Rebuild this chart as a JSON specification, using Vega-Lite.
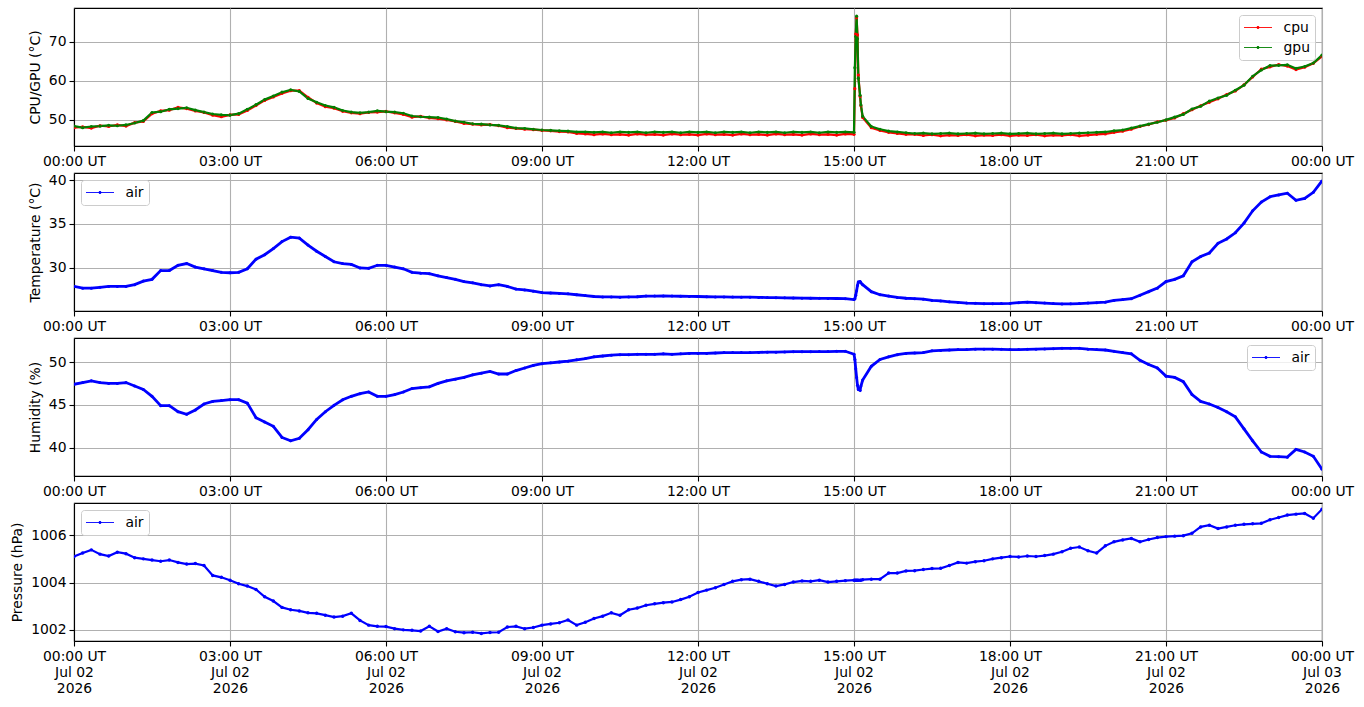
{
  "$schema": "https://vega.github.io/schema/vega-lite/v6.json",
  "background": "#ffffff",
  "padding": {"top": 7, "left": 10, "right": 5, "bottom": 5},
  "spacing": 3,
  "datasets": {
    "sensors": [
      {"t": "2026-07-02T00:00:00Z", "cpu": 48.0, "gpu": 48.4, "air": 27.9, "hum": 47.4, "pres": 1005.1},
      {"t": "2026-07-02T00:10:00Z", "cpu": 48.2, "gpu": 48.0, "air": 27.7, "hum": 47.6, "pres": 1005.25},
      {"t": "2026-07-02T00:20:00Z", "cpu": 47.9, "gpu": 48.3, "air": 27.7, "hum": 47.8, "pres": 1005.38},
      {"t": "2026-07-02T00:30:00Z", "cpu": 48.5, "gpu": 48.4, "air": 27.8, "hum": 47.6, "pres": 1005.2},
      {"t": "2026-07-02T00:40:00Z", "cpu": 48.3, "gpu": 48.6, "air": 27.9, "hum": 47.5, "pres": 1005.12},
      {"t": "2026-07-02T00:50:00Z", "cpu": 48.7, "gpu": 48.5, "air": 27.9, "hum": 47.5, "pres": 1005.28},
      {"t": "2026-07-02T01:00:00Z", "cpu": 48.4, "gpu": 48.7, "air": 27.9, "hum": 47.6, "pres": 1005.22},
      {"t": "2026-07-02T01:10:00Z", "cpu": 49.3, "gpu": 49.2, "air": 28.1, "hum": 47.2, "pres": 1005.05},
      {"t": "2026-07-02T01:20:00Z", "cpu": 49.6, "gpu": 49.8, "air": 28.5, "hum": 46.8, "pres": 1005.0},
      {"t": "2026-07-02T01:30:00Z", "cpu": 51.6, "gpu": 51.9, "air": 28.7, "hum": 46.0, "pres": 1004.95},
      {"t": "2026-07-02T01:40:00Z", "cpu": 52.3, "gpu": 52.1, "air": 29.7, "hum": 44.9, "pres": 1004.9},
      {"t": "2026-07-02T01:50:00Z", "cpu": 52.5, "gpu": 52.7, "air": 29.7, "hum": 44.9, "pres": 1004.95},
      {"t": "2026-07-02T02:00:00Z", "cpu": 53.2, "gpu": 52.9, "air": 30.3, "hum": 44.2, "pres": 1004.85},
      {"t": "2026-07-02T02:10:00Z", "cpu": 52.9, "gpu": 53.1, "air": 30.5, "hum": 43.9, "pres": 1004.78},
      {"t": "2026-07-02T02:20:00Z", "cpu": 52.3, "gpu": 52.5, "air": 30.1, "hum": 44.4, "pres": 1004.8},
      {"t": "2026-07-02T02:30:00Z", "cpu": 51.9, "gpu": 52.0, "air": 29.9, "hum": 45.1, "pres": 1004.72},
      {"t": "2026-07-02T02:40:00Z", "cpu": 51.2, "gpu": 51.5, "air": 29.7, "hum": 45.4, "pres": 1004.3},
      {"t": "2026-07-02T02:50:00Z", "cpu": 50.8, "gpu": 51.3, "air": 29.5, "hum": 45.5, "pres": 1004.22},
      {"t": "2026-07-02T03:00:00Z", "cpu": 51.3, "gpu": 51.2, "air": 29.45, "hum": 45.6, "pres": 1004.1},
      {"t": "2026-07-02T03:10:00Z", "cpu": 51.4, "gpu": 51.6, "air": 29.5, "hum": 45.6, "pres": 1003.95},
      {"t": "2026-07-02T03:20:00Z", "cpu": 52.4, "gpu": 52.7, "air": 29.9, "hum": 45.2, "pres": 1003.85},
      {"t": "2026-07-02T03:30:00Z", "cpu": 53.7, "gpu": 53.9, "air": 31.0, "hum": 43.5, "pres": 1003.71},
      {"t": "2026-07-02T03:40:00Z", "cpu": 55.0, "gpu": 55.2, "air": 31.5, "hum": 43.0, "pres": 1003.4},
      {"t": "2026-07-02T03:50:00Z", "cpu": 55.9, "gpu": 56.1, "air": 32.2, "hum": 42.5, "pres": 1003.22},
      {"t": "2026-07-02T04:00:00Z", "cpu": 56.8, "gpu": 57.1, "air": 33.0, "hum": 41.2, "pres": 1002.95},
      {"t": "2026-07-02T04:10:00Z", "cpu": 57.5, "gpu": 57.7, "air": 33.5, "hum": 40.8, "pres": 1002.85},
      {"t": "2026-07-02T04:20:00Z", "cpu": 57.5, "gpu": 57.3, "air": 33.4, "hum": 41.1, "pres": 1002.8},
      {"t": "2026-07-02T04:30:00Z", "cpu": 55.8, "gpu": 55.5, "air": 32.6, "hum": 42.1, "pres": 1002.72},
      {"t": "2026-07-02T04:40:00Z", "cpu": 54.3, "gpu": 54.5, "air": 31.9, "hum": 43.3, "pres": 1002.7},
      {"t": "2026-07-02T04:50:00Z", "cpu": 53.4, "gpu": 53.7, "air": 31.3, "hum": 44.2, "pres": 1002.62},
      {"t": "2026-07-02T05:00:00Z", "cpu": 53.0, "gpu": 53.2, "air": 30.7, "hum": 44.95, "pres": 1002.54},
      {"t": "2026-07-02T05:10:00Z", "cpu": 52.2, "gpu": 52.4, "air": 30.5, "hum": 45.6, "pres": 1002.58},
      {"t": "2026-07-02T05:20:00Z", "cpu": 51.8, "gpu": 52.0, "air": 30.4, "hum": 46.0, "pres": 1002.7},
      {"t": "2026-07-02T05:30:00Z", "cpu": 51.6, "gpu": 51.8, "air": 30.0, "hum": 46.3, "pres": 1002.4},
      {"t": "2026-07-02T05:40:00Z", "cpu": 51.9, "gpu": 52.0, "air": 29.95, "hum": 46.5, "pres": 1002.2},
      {"t": "2026-07-02T05:50:00Z", "cpu": 52.0, "gpu": 52.3, "air": 30.3, "hum": 46.0, "pres": 1002.15},
      {"t": "2026-07-02T06:00:00Z", "cpu": 52.2, "gpu": 52.1, "air": 30.3, "hum": 46.0, "pres": 1002.14},
      {"t": "2026-07-02T06:10:00Z", "cpu": 51.8, "gpu": 52.0, "air": 30.1, "hum": 46.2, "pres": 1002.05},
      {"t": "2026-07-02T06:20:00Z", "cpu": 51.4, "gpu": 51.7, "air": 29.9, "hum": 46.5, "pres": 1002.0},
      {"t": "2026-07-02T06:30:00Z", "cpu": 50.7, "gpu": 51.0, "air": 29.5, "hum": 46.9, "pres": 1001.98},
      {"t": "2026-07-02T06:40:00Z", "cpu": 50.9, "gpu": 50.8, "air": 29.4, "hum": 47.0, "pres": 1001.95},
      {"t": "2026-07-02T06:50:00Z", "cpu": 50.5, "gpu": 50.7, "air": 29.35, "hum": 47.1, "pres": 1002.15},
      {"t": "2026-07-02T07:00:00Z", "cpu": 50.3, "gpu": 50.6, "air": 29.1, "hum": 47.5, "pres": 1001.93},
      {"t": "2026-07-02T07:10:00Z", "cpu": 50.0, "gpu": 50.2, "air": 28.9, "hum": 47.8, "pres": 1002.05},
      {"t": "2026-07-02T07:20:00Z", "cpu": 49.6, "gpu": 49.7, "air": 28.7, "hum": 48.0, "pres": 1001.92},
      {"t": "2026-07-02T07:30:00Z", "cpu": 49.1, "gpu": 49.4, "air": 28.45, "hum": 48.2, "pres": 1001.88},
      {"t": "2026-07-02T07:40:00Z", "cpu": 48.9, "gpu": 49.0, "air": 28.3, "hum": 48.5, "pres": 1001.9},
      {"t": "2026-07-02T07:50:00Z", "cpu": 48.7, "gpu": 48.9, "air": 28.1, "hum": 48.7, "pres": 1001.85},
      {"t": "2026-07-02T08:00:00Z", "cpu": 48.8, "gpu": 48.7, "air": 27.95, "hum": 48.9, "pres": 1001.89},
      {"t": "2026-07-02T08:10:00Z", "cpu": 48.5, "gpu": 48.6, "air": 28.1, "hum": 48.6, "pres": 1001.9},
      {"t": "2026-07-02T08:20:00Z", "cpu": 48.0, "gpu": 48.3, "air": 27.9, "hum": 48.6, "pres": 1002.12},
      {"t": "2026-07-02T08:30:00Z", "cpu": 47.8, "gpu": 47.9, "air": 27.6, "hum": 49.0, "pres": 1002.15},
      {"t": "2026-07-02T08:40:00Z", "cpu": 47.6, "gpu": 47.8, "air": 27.5, "hum": 49.3, "pres": 1002.05},
      {"t": "2026-07-02T08:50:00Z", "cpu": 47.5, "gpu": 47.6, "air": 27.35, "hum": 49.6, "pres": 1002.1},
      {"t": "2026-07-02T09:00:00Z", "cpu": 47.3, "gpu": 47.4, "air": 27.2, "hum": 49.8, "pres": 1002.2},
      {"t": "2026-07-02T09:10:00Z", "cpu": 47.2, "gpu": 47.3, "air": 27.15, "hum": 49.9, "pres": 1002.25},
      {"t": "2026-07-02T09:20:00Z", "cpu": 47.0, "gpu": 47.2, "air": 27.1, "hum": 50.0, "pres": 1002.3},
      {"t": "2026-07-02T09:30:00Z", "cpu": 46.9, "gpu": 47.1, "air": 27.05, "hum": 50.1, "pres": 1002.42},
      {"t": "2026-07-02T09:40:00Z", "cpu": 46.5, "gpu": 46.9, "air": 26.95, "hum": 50.25, "pres": 1002.2},
      {"t": "2026-07-02T09:50:00Z", "cpu": 46.4, "gpu": 46.9, "air": 26.85, "hum": 50.4, "pres": 1002.32},
      {"t": "2026-07-02T10:00:00Z", "cpu": 46.2, "gpu": 46.8, "air": 26.75, "hum": 50.6, "pres": 1002.48},
      {"t": "2026-07-02T10:10:00Z", "cpu": 46.4, "gpu": 46.9, "air": 26.7, "hum": 50.7, "pres": 1002.58},
      {"t": "2026-07-02T10:20:00Z", "cpu": 46.2, "gpu": 46.7, "air": 26.7, "hum": 50.8, "pres": 1002.72},
      {"t": "2026-07-02T10:30:00Z", "cpu": 46.3, "gpu": 46.9, "air": 26.67, "hum": 50.85, "pres": 1002.62},
      {"t": "2026-07-02T10:40:00Z", "cpu": 46.1, "gpu": 46.8, "air": 26.7, "hum": 50.85, "pres": 1002.85},
      {"t": "2026-07-02T10:50:00Z", "cpu": 46.4, "gpu": 46.9, "air": 26.72, "hum": 50.9, "pres": 1002.92},
      {"t": "2026-07-02T11:00:00Z", "cpu": 46.2, "gpu": 46.7, "air": 26.8, "hum": 50.9, "pres": 1003.04},
      {"t": "2026-07-02T11:10:00Z", "cpu": 46.3, "gpu": 46.9, "air": 26.8, "hum": 50.9, "pres": 1003.1},
      {"t": "2026-07-02T11:20:00Z", "cpu": 46.1, "gpu": 46.8, "air": 26.82, "hum": 50.95, "pres": 1003.15},
      {"t": "2026-07-02T11:30:00Z", "cpu": 46.4, "gpu": 46.9, "air": 26.8, "hum": 50.9, "pres": 1003.18},
      {"t": "2026-07-02T11:40:00Z", "cpu": 46.2, "gpu": 46.7, "air": 26.78, "hum": 50.95, "pres": 1003.28},
      {"t": "2026-07-02T11:50:00Z", "cpu": 46.3, "gpu": 46.9, "air": 26.76, "hum": 51.0, "pres": 1003.4},
      {"t": "2026-07-02T12:00:00Z", "cpu": 46.1, "gpu": 46.8, "air": 26.75, "hum": 51.0, "pres": 1003.58},
      {"t": "2026-07-02T12:10:00Z", "cpu": 46.4, "gpu": 46.9, "air": 26.72, "hum": 51.0, "pres": 1003.68},
      {"t": "2026-07-02T12:20:00Z", "cpu": 46.2, "gpu": 46.7, "air": 26.7, "hum": 51.05, "pres": 1003.78},
      {"t": "2026-07-02T12:30:00Z", "cpu": 46.3, "gpu": 46.9, "air": 26.7, "hum": 51.1, "pres": 1003.92},
      {"t": "2026-07-02T12:40:00Z", "cpu": 46.1, "gpu": 46.8, "air": 26.68, "hum": 51.1, "pres": 1004.05},
      {"t": "2026-07-02T12:50:00Z", "cpu": 46.4, "gpu": 46.9, "air": 26.67, "hum": 51.1, "pres": 1004.12},
      {"t": "2026-07-02T13:00:00Z", "cpu": 46.2, "gpu": 46.7, "air": 26.67, "hum": 51.1, "pres": 1004.14},
      {"t": "2026-07-02T13:10:00Z", "cpu": 46.3, "gpu": 46.9, "air": 26.65, "hum": 51.12, "pres": 1004.05},
      {"t": "2026-07-02T13:20:00Z", "cpu": 46.1, "gpu": 46.8, "air": 26.63, "hum": 51.15, "pres": 1003.95},
      {"t": "2026-07-02T13:30:00Z", "cpu": 46.4, "gpu": 46.9, "air": 26.62, "hum": 51.15, "pres": 1003.85},
      {"t": "2026-07-02T13:40:00Z", "cpu": 46.2, "gpu": 46.7, "air": 26.6, "hum": 51.18, "pres": 1003.92},
      {"t": "2026-07-02T13:50:00Z", "cpu": 46.3, "gpu": 46.9, "air": 26.58, "hum": 51.2, "pres": 1004.02},
      {"t": "2026-07-02T14:00:00Z", "cpu": 46.1, "gpu": 46.8, "air": 26.56, "hum": 51.2, "pres": 1004.07},
      {"t": "2026-07-02T14:10:00Z", "cpu": 46.4, "gpu": 46.9, "air": 26.55, "hum": 51.2, "pres": 1004.05},
      {"t": "2026-07-02T14:20:00Z", "cpu": 46.2, "gpu": 46.7, "air": 26.54, "hum": 51.22, "pres": 1004.1},
      {"t": "2026-07-02T14:30:00Z", "cpu": 46.3, "gpu": 46.9, "air": 26.53, "hum": 51.22, "pres": 1004.02},
      {"t": "2026-07-02T14:40:00Z", "cpu": 46.1, "gpu": 46.8, "air": 26.52, "hum": 51.25, "pres": 1004.05},
      {"t": "2026-07-02T14:50:00Z", "cpu": 46.4, "gpu": 46.9, "air": 26.5, "hum": 51.25, "pres": 1004.08},
      {"t": "2026-07-02T15:00:00Z", "cpu": 46.3, "gpu": 46.8, "air": 26.4, "hum": 50.9, "pres": 1004.1},
      {"t": "2026-07-02T15:01:00Z", "cpu": 58.0, "gpu": 63.4, "air": 26.5, "hum": 50.3, "pres": 1004.1},
      {"t": "2026-07-02T15:02:00Z", "cpu": 72.0, "gpu": 71.4, "air": 26.9, "hum": 49.2, "pres": 1004.1},
      {"t": "2026-07-02T15:03:00Z", "cpu": 76.2, "gpu": 76.6, "air": 27.4, "hum": 48.2, "pres": 1004.1},
      {"t": "2026-07-02T15:04:00Z", "cpu": 71.8, "gpu": 70.8, "air": 28.0, "hum": 47.3, "pres": 1004.1},
      {"t": "2026-07-02T15:05:00Z", "cpu": 61.5, "gpu": 60.7, "air": 28.4, "hum": 46.8, "pres": 1004.1},
      {"t": "2026-07-02T15:07:00Z", "cpu": 56.0, "gpu": 56.3, "air": 28.45, "hum": 46.7, "pres": 1004.1},
      {"t": "2026-07-02T15:08:00Z", "cpu": 53.6, "gpu": 53.8, "air": 28.3, "hum": 47.2, "pres": 1004.1},
      {"t": "2026-07-02T15:10:00Z", "cpu": 50.6, "gpu": 50.9, "air": 28.1, "hum": 47.9, "pres": 1004.12},
      {"t": "2026-07-02T15:20:00Z", "cpu": 48.0, "gpu": 48.3, "air": 27.3, "hum": 49.5, "pres": 1004.14},
      {"t": "2026-07-02T15:30:00Z", "cpu": 47.3, "gpu": 47.6, "air": 26.95, "hum": 50.3, "pres": 1004.14},
      {"t": "2026-07-02T15:40:00Z", "cpu": 46.8, "gpu": 47.1, "air": 26.8, "hum": 50.6, "pres": 1004.4},
      {"t": "2026-07-02T15:50:00Z", "cpu": 46.5, "gpu": 46.9, "air": 26.65, "hum": 50.85, "pres": 1004.4},
      {"t": "2026-07-02T16:00:00Z", "cpu": 46.3, "gpu": 46.7, "air": 26.55, "hum": 51.0, "pres": 1004.49},
      {"t": "2026-07-02T16:10:00Z", "cpu": 46.3, "gpu": 46.5, "air": 26.5, "hum": 51.05, "pres": 1004.5},
      {"t": "2026-07-02T16:20:00Z", "cpu": 46.0, "gpu": 46.6, "air": 26.45, "hum": 51.1, "pres": 1004.55},
      {"t": "2026-07-02T16:30:00Z", "cpu": 46.2, "gpu": 46.4, "air": 26.3, "hum": 51.3, "pres": 1004.59},
      {"t": "2026-07-02T16:40:00Z", "cpu": 45.9, "gpu": 46.5, "air": 26.25, "hum": 51.35, "pres": 1004.6},
      {"t": "2026-07-02T16:50:00Z", "cpu": 46.1, "gpu": 46.6, "air": 26.15, "hum": 51.4, "pres": 1004.72},
      {"t": "2026-07-02T17:00:00Z", "cpu": 46.0, "gpu": 46.4, "air": 26.07, "hum": 51.45, "pres": 1004.85},
      {"t": "2026-07-02T17:10:00Z", "cpu": 46.2, "gpu": 46.5, "air": 26.0, "hum": 51.45, "pres": 1004.82},
      {"t": "2026-07-02T17:20:00Z", "cpu": 45.9, "gpu": 46.6, "air": 25.97, "hum": 51.5, "pres": 1004.88},
      {"t": "2026-07-02T17:30:00Z", "cpu": 46.1, "gpu": 46.4, "air": 25.93, "hum": 51.5, "pres": 1004.92},
      {"t": "2026-07-02T17:40:00Z", "cpu": 46.0, "gpu": 46.5, "air": 25.93, "hum": 51.5, "pres": 1005.0},
      {"t": "2026-07-02T17:50:00Z", "cpu": 46.2, "gpu": 46.6, "air": 25.95, "hum": 51.48, "pres": 1005.05},
      {"t": "2026-07-02T18:00:00Z", "cpu": 45.9, "gpu": 46.4, "air": 25.96, "hum": 51.45, "pres": 1005.1},
      {"t": "2026-07-02T18:10:00Z", "cpu": 46.1, "gpu": 46.5, "air": 26.05, "hum": 51.45, "pres": 1005.08},
      {"t": "2026-07-02T18:20:00Z", "cpu": 46.0, "gpu": 46.6, "air": 26.1, "hum": 51.48, "pres": 1005.12},
      {"t": "2026-07-02T18:30:00Z", "cpu": 46.2, "gpu": 46.4, "air": 26.05, "hum": 51.5, "pres": 1005.1},
      {"t": "2026-07-02T18:40:00Z", "cpu": 45.9, "gpu": 46.5, "air": 26.0, "hum": 51.52, "pres": 1005.14},
      {"t": "2026-07-02T18:50:00Z", "cpu": 46.1, "gpu": 46.6, "air": 25.95, "hum": 51.55, "pres": 1005.2},
      {"t": "2026-07-02T19:00:00Z", "cpu": 46.0, "gpu": 46.4, "air": 25.9, "hum": 51.6, "pres": 1005.3},
      {"t": "2026-07-02T19:10:00Z", "cpu": 46.2, "gpu": 46.5, "air": 25.92, "hum": 51.6, "pres": 1005.45},
      {"t": "2026-07-02T19:20:00Z", "cpu": 45.9, "gpu": 46.6, "air": 25.95, "hum": 51.6, "pres": 1005.5},
      {"t": "2026-07-02T19:30:00Z", "cpu": 46.1, "gpu": 46.7, "air": 26.0, "hum": 51.5, "pres": 1005.34},
      {"t": "2026-07-02T19:40:00Z", "cpu": 46.3, "gpu": 46.8, "air": 26.05, "hum": 51.45, "pres": 1005.25},
      {"t": "2026-07-02T19:50:00Z", "cpu": 46.4, "gpu": 46.9, "air": 26.1, "hum": 51.4, "pres": 1005.55},
      {"t": "2026-07-02T20:00:00Z", "cpu": 46.8, "gpu": 47.2, "air": 26.3, "hum": 51.25, "pres": 1005.72},
      {"t": "2026-07-02T20:10:00Z", "cpu": 47.1, "gpu": 47.4, "air": 26.4, "hum": 51.1, "pres": 1005.8},
      {"t": "2026-07-02T20:20:00Z", "cpu": 47.6, "gpu": 47.9, "air": 26.5, "hum": 50.95, "pres": 1005.86},
      {"t": "2026-07-02T20:30:00Z", "cpu": 48.3, "gpu": 48.4, "air": 26.9, "hum": 50.2, "pres": 1005.72},
      {"t": "2026-07-02T20:40:00Z", "cpu": 48.8, "gpu": 48.9, "air": 27.3, "hum": 49.7, "pres": 1005.82},
      {"t": "2026-07-02T20:50:00Z", "cpu": 49.5, "gpu": 49.4, "air": 27.7, "hum": 49.3, "pres": 1005.9},
      {"t": "2026-07-02T21:00:00Z", "cpu": 49.9, "gpu": 50.0, "air": 28.45, "hum": 48.35, "pres": 1005.94},
      {"t": "2026-07-02T21:10:00Z", "cpu": 50.5, "gpu": 50.7, "air": 28.7, "hum": 48.2, "pres": 1005.96},
      {"t": "2026-07-02T21:20:00Z", "cpu": 51.6, "gpu": 51.4, "air": 29.1, "hum": 47.7, "pres": 1005.98},
      {"t": "2026-07-02T21:30:00Z", "cpu": 52.6, "gpu": 52.8, "air": 30.7, "hum": 46.2, "pres": 1006.08},
      {"t": "2026-07-02T21:40:00Z", "cpu": 53.6, "gpu": 53.5, "air": 31.3, "hum": 45.4, "pres": 1006.35},
      {"t": "2026-07-02T21:50:00Z", "cpu": 54.5, "gpu": 54.8, "air": 31.7, "hum": 45.1, "pres": 1006.42},
      {"t": "2026-07-02T22:00:00Z", "cpu": 55.4, "gpu": 55.6, "air": 32.8, "hum": 44.7, "pres": 1006.28},
      {"t": "2026-07-02T22:10:00Z", "cpu": 56.5, "gpu": 56.3, "air": 33.3, "hum": 44.2, "pres": 1006.35},
      {"t": "2026-07-02T22:20:00Z", "cpu": 57.4, "gpu": 57.6, "air": 34.0, "hum": 43.6, "pres": 1006.42},
      {"t": "2026-07-02T22:30:00Z", "cpu": 59.0, "gpu": 58.9, "air": 35.1, "hum": 42.2, "pres": 1006.46},
      {"t": "2026-07-02T22:40:00Z", "cpu": 61.0, "gpu": 61.2, "air": 36.5, "hum": 40.8, "pres": 1006.48},
      {"t": "2026-07-02T22:50:00Z", "cpu": 63.0, "gpu": 62.8, "air": 37.5, "hum": 39.5, "pres": 1006.5},
      {"t": "2026-07-02T23:00:00Z", "cpu": 63.6, "gpu": 63.9, "air": 38.1, "hum": 39.0, "pres": 1006.65},
      {"t": "2026-07-02T23:10:00Z", "cpu": 64.2, "gpu": 64.0, "air": 38.3, "hum": 38.95, "pres": 1006.75},
      {"t": "2026-07-02T23:20:00Z", "cpu": 63.8, "gpu": 64.1, "air": 38.5, "hum": 38.9, "pres": 1006.85},
      {"t": "2026-07-02T23:30:00Z", "cpu": 62.9, "gpu": 63.2, "air": 37.7, "hum": 39.8, "pres": 1006.89},
      {"t": "2026-07-02T23:40:00Z", "cpu": 63.5, "gpu": 63.7, "air": 37.9, "hum": 39.5, "pres": 1006.92},
      {"t": "2026-07-02T23:50:00Z", "cpu": 64.5, "gpu": 64.6, "air": 38.6, "hum": 39.0, "pres": 1006.72},
      {"t": "2026-07-03T00:00:00Z", "cpu": 66.3, "gpu": 66.6, "air": 39.9, "hum": 37.5, "pres": 1007.1}
    ]
  },
  "vconcat": [
    {
      "width": 1248,
      "height": 138,
      "data": {"name": "sensors"},
      "transform": [{"fold": ["cpu", "gpu"], "as": ["sensor", "reading"]}],
      "encoding": {
        "x": {
          "field": "t", "type": "temporal",
          "scale": {"type": "utc", "domain": [{"year": 2026, "month": 7, "date": 2, "hours": 0, "utc": true}, {"year": 2026, "month": 7, "date": 3, "hours": 0, "utc": true}]},
          "axis": {
            "title": null, "labelExpr": "utcFormat(datum.value, '%H:%M UT')", "labelFlush": false, "labelOverlap": false,
            "values": [
              {"year": 2026, "month": 7, "date": 2, "hours": 0, "utc": true}, {"year": 2026, "month": 7, "date": 2, "hours": 3, "utc": true},
              {"year": 2026, "month": 7, "date": 2, "hours": 6, "utc": true}, {"year": 2026, "month": 7, "date": 2, "hours": 9, "utc": true},
              {"year": 2026, "month": 7, "date": 2, "hours": 12, "utc": true}, {"year": 2026, "month": 7, "date": 2, "hours": 15, "utc": true},
              {"year": 2026, "month": 7, "date": 2, "hours": 18, "utc": true}, {"year": 2026, "month": 7, "date": 2, "hours": 21, "utc": true},
              {"year": 2026, "month": 7, "date": 3, "hours": 0, "utc": true}
            ]
          }
        },
        "y": {
          "field": "reading", "type": "quantitative",
          "scale": {"domain": [43.3, 78.7], "nice": false, "zero": false},
          "axis": {"title": "CPU/GPU (°C)", "values": [50, 60, 70]}
        },
        "color": {
          "field": "sensor", "type": "nominal",
          "scale": {"domain": ["cpu", "gpu"], "range": ["#ff0000", "#008000"]},
          "legend": {"title": null, "orient": "top-right"}
        }
      },
      "layer": [
        {"mark": {"type": "line", "strokeWidth": 2.2, "clip": true}},
        {"mark": {"type": "point", "filled": true, "size": 10, "opacity": 1, "clip": true}}
      ]
    },
    {
      "width": 1248,
      "height": 138,
      "data": {"name": "sensors"},
      "encoding": {
        "x": {
          "field": "t", "type": "temporal",
          "scale": {"type": "utc", "domain": [{"year": 2026, "month": 7, "date": 2, "hours": 0, "utc": true}, {"year": 2026, "month": 7, "date": 3, "hours": 0, "utc": true}]},
          "axis": {
            "title": null, "labelExpr": "utcFormat(datum.value, '%H:%M UT')", "labelFlush": false, "labelOverlap": false,
            "values": [
              {"year": 2026, "month": 7, "date": 2, "hours": 0, "utc": true}, {"year": 2026, "month": 7, "date": 2, "hours": 3, "utc": true},
              {"year": 2026, "month": 7, "date": 2, "hours": 6, "utc": true}, {"year": 2026, "month": 7, "date": 2, "hours": 9, "utc": true},
              {"year": 2026, "month": 7, "date": 2, "hours": 12, "utc": true}, {"year": 2026, "month": 7, "date": 2, "hours": 15, "utc": true},
              {"year": 2026, "month": 7, "date": 2, "hours": 18, "utc": true}, {"year": 2026, "month": 7, "date": 2, "hours": 21, "utc": true},
              {"year": 2026, "month": 7, "date": 3, "hours": 0, "utc": true}
            ]
          }
        },
        "y": {
          "field": "air", "type": "quantitative",
          "scale": {"domain": [25.1, 40.8], "nice": false, "zero": false},
          "axis": {"title": "Temperature (°C)", "values": [30, 35, 40]}
        },
        "color": {
          "datum": "air", "type": "nominal",
          "scale": {"domain": ["air"], "range": ["#0000ff"]},
          "legend": {"title": null, "orient": "top-left"}
        }
      },
      "layer": [
        {"mark": {"type": "line", "strokeWidth": 2.8, "clip": true}},
        {"mark": {"type": "point", "filled": true, "size": 9, "opacity": 1, "clip": true}}
      ]
    },
    {
      "width": 1248,
      "height": 138,
      "data": {"name": "sensors"},
      "encoding": {
        "x": {
          "field": "t", "type": "temporal",
          "scale": {"type": "utc", "domain": [{"year": 2026, "month": 7, "date": 2, "hours": 0, "utc": true}, {"year": 2026, "month": 7, "date": 3, "hours": 0, "utc": true}]},
          "axis": {
            "title": null, "labelExpr": "utcFormat(datum.value, '%H:%M UT')", "labelFlush": false, "labelOverlap": false,
            "values": [
              {"year": 2026, "month": 7, "date": 2, "hours": 0, "utc": true}, {"year": 2026, "month": 7, "date": 2, "hours": 3, "utc": true},
              {"year": 2026, "month": 7, "date": 2, "hours": 6, "utc": true}, {"year": 2026, "month": 7, "date": 2, "hours": 9, "utc": true},
              {"year": 2026, "month": 7, "date": 2, "hours": 12, "utc": true}, {"year": 2026, "month": 7, "date": 2, "hours": 15, "utc": true},
              {"year": 2026, "month": 7, "date": 2, "hours": 18, "utc": true}, {"year": 2026, "month": 7, "date": 2, "hours": 21, "utc": true},
              {"year": 2026, "month": 7, "date": 3, "hours": 0, "utc": true}
            ]
          }
        },
        "y": {
          "field": "hum", "type": "quantitative",
          "scale": {"domain": [36.7, 52.8], "nice": false, "zero": false},
          "axis": {"title": "Humidity (%)", "values": [40, 45, 50]}
        },
        "color": {
          "datum": "air", "type": "nominal",
          "scale": {"domain": ["air"], "range": ["#0000ff"]},
          "legend": {"title": null, "orient": "top-right"}
        }
      },
      "layer": [
        {"mark": {"type": "line", "strokeWidth": 2.8, "clip": true}},
        {"mark": {"type": "point", "filled": true, "size": 9, "opacity": 1, "clip": true}}
      ]
    },
    {
      "width": 1248,
      "height": 138,
      "data": {"name": "sensors"},
      "encoding": {
        "x": {
          "field": "t", "type": "temporal",
          "scale": {"type": "utc", "domain": [{"year": 2026, "month": 7, "date": 2, "hours": 0, "utc": true}, {"year": 2026, "month": 7, "date": 3, "hours": 0, "utc": true}]},
          "axis": {
            "title": null,
            "labelExpr": "[utcFormat(datum.value, '%H:%M UT'), utcFormat(datum.value, '%b %d'), utcFormat(datum.value, '%Y')]",
            "labelLineHeight": 16, "labelFlush": false, "labelOverlap": false,
            "values": [
              {"year": 2026, "month": 7, "date": 2, "hours": 0, "utc": true}, {"year": 2026, "month": 7, "date": 2, "hours": 3, "utc": true},
              {"year": 2026, "month": 7, "date": 2, "hours": 6, "utc": true}, {"year": 2026, "month": 7, "date": 2, "hours": 9, "utc": true},
              {"year": 2026, "month": 7, "date": 2, "hours": 12, "utc": true}, {"year": 2026, "month": 7, "date": 2, "hours": 15, "utc": true},
              {"year": 2026, "month": 7, "date": 2, "hours": 18, "utc": true}, {"year": 2026, "month": 7, "date": 2, "hours": 21, "utc": true},
              {"year": 2026, "month": 7, "date": 3, "hours": 0, "utc": true}
            ]
          }
        },
        "y": {
          "field": "pres", "type": "quantitative",
          "scale": {"domain": [1001.53, 1007.36], "nice": false, "zero": false},
          "axis": {"title": "Pressure (hPa)", "values": [1002, 1004, 1006], "format": "d"}
        },
        "color": {
          "datum": "air", "type": "nominal",
          "scale": {"domain": ["air"], "range": ["#0000ff"]},
          "legend": {"title": null, "orient": "top-left"}
        }
      },
      "layer": [
        {"mark": {"type": "line", "strokeWidth": 2.2, "clip": true}},
        {"mark": {"type": "point", "filled": true, "size": 12, "opacity": 1, "clip": true}}
      ]
    }
  ],
  "resolve": {"scale": {"color": "independent"}, "legend": {"color": "independent"}},
  "config": {
    "font": "DejaVu Sans",
    "view": {"stroke": "#000000", "strokeWidth": 1.1},
    "axis": {
      "labelFont": "DejaVu Sans", "labelFontSize": 13.9, "labelColor": "#000000", "labelPadding": 3,
      "titleFont": "DejaVu Sans", "titleFontSize": 13.9, "titleFontWeight": "normal", "titleColor": "#000000", "titlePadding": 6,
      "tickColor": "#000000", "tickSize": 5, "tickWidth": 1.1,
      "domainColor": "#000000", "domainWidth": 1.1,
      "grid": true, "gridColor": "#b0b0b0", "gridWidth": 1.1
    },
    "legend": {
      "offset": 7, "padding": 5, "rowPadding": 5,
      "fillColor": "rgba(255,255,255,0.8)", "strokeColor": "#cccccc", "cornerRadius": 3,
      "labelFont": "DejaVu Sans", "labelFontSize": 13.9, "labelColor": "#000000",
      "symbolType": "M-2,0H2M-0.17,0A0.17,0.17,0,1,1,0.17,0A0.17,0.17,0,1,1,-0.17,0Z",
      "symbolSize": 196, "symbolStrokeWidth": 0.9, "symbolOffset": 6.5, "labelOffset": 18
    }
  }
}
